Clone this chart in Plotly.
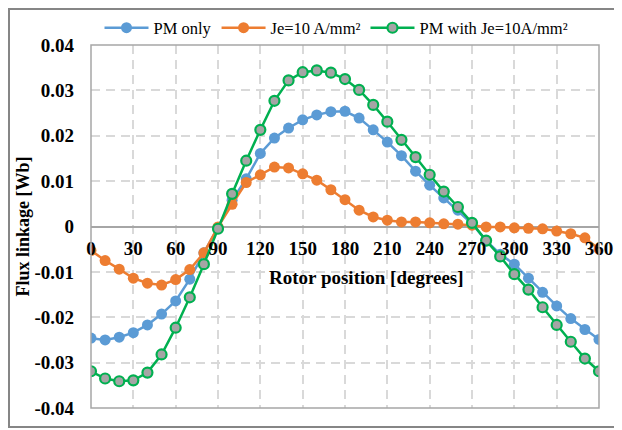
import plotly.graph_objects as go

angles = list(range(0, 361, 10))

pm_only = [-0.0246, -0.0250, -0.0244, -0.0234, -0.0217, -0.0193, -0.0164, -0.0116, -0.0058, -0.0002,
           0.0058, 0.0105, 0.0161, 0.0195, 0.0217, 0.0235, 0.0246, 0.0253, 0.0254, 0.0239,
           0.0213, 0.0186, 0.0156, 0.0122, 0.0091, 0.0063, 0.0036, 0.0006, -0.0031, -0.0061,
           -0.0083, -0.0114, -0.0145, -0.0175, -0.0203, -0.0227, -0.0249]

je_only = [-0.0053, -0.0075, -0.0094, -0.0114, -0.0125, -0.0129, -0.0117, -0.0095, -0.0058, -0.0001,
           0.0049, 0.0097, 0.0114, 0.0131, 0.0129, 0.0116, 0.0102, 0.0081, 0.0059, 0.0036,
           0.0021, 0.0014, 0.0010, 0.0010, 0.0008, 0.0006, 0.0005, 0.0003, -0.0001, -0.0001,
           -0.0003, -0.0004, -0.0005, -0.0010, -0.0016, -0.0025, -0.0050]

pm_with_je = [-0.0319, -0.0335, -0.0341, -0.0339, -0.0322, -0.0282, -0.0223, -0.0156, -0.0083, -0.0005,
              0.0072, 0.0145, 0.0213, 0.0277, 0.0322, 0.0340, 0.0344, 0.0339, 0.0325, 0.0301,
              0.0268, 0.0231, 0.0191, 0.0153, 0.0114, 0.0077, 0.0043, 0.0008, -0.0031, -0.0066,
              -0.0105, -0.0139, -0.0178, -0.0217, -0.0254, -0.0291, -0.0319]

x_ticks = list(range(0, 361, 30))
y_ticks = [-0.04, -0.03, -0.02, -0.01, 0, 0.01, 0.02, 0.03, 0.04]
y_tick_text = ["-0.04", "-0.03", "-0.02", "-0.01", "0", "0.01", "0.02", "0.03", "0.04"]

names = ["PM only", "Je=10 A/mm²", "PM with Je=10A/mm²"]

SERIF = "Liberation Serif, Times New Roman, serif"

# page is offset by the default 8px body margin; figure sized to fill the rest
W, H = 614, 422
L, R, T, B = 83, 23, 37, 22
PW, PH = W - L - R, H - T - B


def px(x):
    return (x - L) / PW


def py(y):
    return (H - B - y) / PH


fig = go.Figure()
fig.add_trace(go.Scatter(x=angles, y=pm_only, mode="lines+markers", name=names[0],
                         line=dict(color="#5B9BD5", width=2.5),
                         marker=dict(color="#5B9BD5", size=11)))
fig.add_trace(go.Scatter(x=angles, y=je_only, mode="lines+markers", name=names[1],
                         line=dict(color="#ED7D31", width=2.5),
                         marker=dict(color="#ED7D31", size=11)))
fig.add_trace(go.Scatter(x=angles, y=pm_with_je, mode="lines+markers", name=names[2],
                         line=dict(color="#00B050", width=2.5),
                         marker=dict(color="#A5A5A5", size=10, line=dict(color="#00B050", width=2.2))))

fig.update_layout(
    width=W, height=H,
    margin=dict(l=L, r=R, t=T, b=B, autoexpand=False),
    paper_bgcolor="white", plot_bgcolor="white",
    font=dict(family=SERIF, color="black"),
    showlegend=True,
    legend=dict(orientation="h", x=px(328.5), xanchor="center", y=py(20), yanchor="middle",
                font=dict(family=SERIF, size=16.5, color="black"),
                bgcolor="rgba(0,0,0,0)", tracegroupgap=0, itemwidth=44),
    xaxis=dict(range=[0, 360], tickvals=x_ticks, anchor="free", position=0.5,
               showgrid=True, gridcolor="#D9D9D9", griddash="9px,6px", gridwidth=1.5,
               showline=False, zeroline=False, ticks="", automargin=False,
               tickfont=dict(family=SERIF, size=19, color="black", weight="bold"),
               ticklabelstandoff=8),
    yaxis=dict(range=[-0.04, 0.04], tickvals=y_ticks, ticktext=y_tick_text,
               showgrid=True, gridcolor="#D9D9D9", griddash="9px,6px", gridwidth=1.5,
               zeroline=True, zerolinecolor="#A6A6A6", zerolinewidth=1.5,
               showline=False, ticks="", automargin=False,
               tickfont=dict(family=SERIF, size=19, color="black", weight="bold"),
               ticklabelstandoff=16),
    shapes=[
        dict(type="rect", xref="paper", yref="paper", x0=0, x1=1, y0=0, y1=1,
             line=dict(color="#A6A6A6", width=1.5), layer="above"),
        dict(type="rect", xref="paper", yref="paper", x0=px(1), x1=px(609), y0=py(419), y1=py(1),
             line=dict(color="#868686", width=2)),
    ],
    annotations=[
        dict(text="<b>Rotor position [degrees]</b>", xref="paper", yref="paper",
             x=px(358), y=py(269), xanchor="center", yanchor="middle",
             showarrow=False, font=dict(family=SERIF, size=19, color="black")),
        dict(text="<b>Flux linkage [Wb]</b>", xref="paper", yref="paper",
             x=px(14), y=0.5, xanchor="center", yanchor="middle", textangle=-90,
             showarrow=False, font=dict(family=SERIF, size=18, color="black")),
    ],
)

fig.write_html("out.html")
